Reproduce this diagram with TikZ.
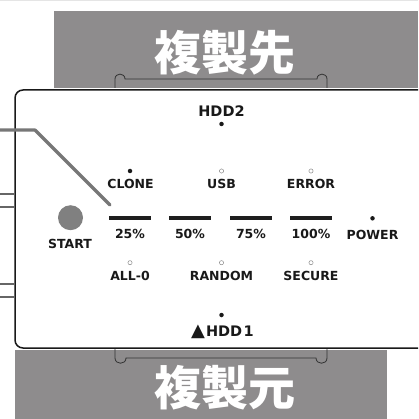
\documentclass[tikz,border=0pt]{standalone}
\usepackage{fontspec}
\setmainfont{DejaVu Sans}
\newfontfamily\cjk{Noto Sans CJK JP}
\usetikzlibrary{positioning}
\definecolor{bandgray}{HTML}{8E8C8D}
\definecolor{leadgray}{HTML}{777777}
\definecolor{btngray}{HTML}{808080}
\definecolor{bargray}{HTML}{1E1E1E}

\begin{document}
\begin{tikzpicture}[x=1pt, y=-1pt,
          lbl/.style={anchor=base, inner sep=0pt, font=\fontsize{12.5}{12.5}\selectfont\bfseries, text=black!90},
          hddlbl/.style={anchor=base, inner sep=0pt, font=\fontsize{14.5}{14.5}\selectfont\bfseries, text=black!90},
          led/.style={circle, fill=black!90, inner sep=0pt, minimum size=4.5pt},
          ledoff/.style={circle, draw=black!45, line width=0.5pt, fill=white, inner sep=0pt, minimum size=4.2pt},
          bar/.style={rectangle, fill=bargray, inner sep=0pt, minimum width=42pt, minimum height=4.5pt},
          band/.style={fill=bandgray},
          bandtext/.style={inner sep=0pt, text=white, font=\fontsize{47}{47}\selectfont\cjk\bfseries},
          slot/.style={draw=black!80, line width=0.8pt},
          lead/.style={draw=leadgray, line width=3.2pt, line cap=round, line join=round}
      ]
      \useasboundingbox (0,0) rectangle (418,419);
      \clip (0,0) rectangle (418,419);

      % Top rule and bands
      \fill[black!10] (0,0) rectangle (418,1.5);
      \fill[band] (54,11) rectangle (418,88);
      \fill[band] (15,350) rectangle (387,419);
      \node[bandtext] (dest) at (225,52.5) {複製先};
      \node[bandtext] (src) at (225,388) {複製元};

      % Drive slots
      \draw[slot] (115,88) -- (115,79) .. controls (115,72.5) and (125,72.5) .. (125,79)
            -- (317,79) .. controls (317,72.5) and (327,72.5) .. (327,79) -- (327,88);
      \draw[slot] (115,348) -- (115,358) .. controls (115,365) and (126,365) .. (126,358)
            -- (316,358) .. controls (316,365) and (327,365) .. (327,358) -- (327,348);

      % Side tabs
      \draw[black!60, line width=1.3pt] (0,194) -- (14,194) (0,207) -- (14,207);
      \draw[black!60, line width=1.3pt] (0,284) -- (14,284) (0,297) -- (14,297);

      % Panel
      \draw[black!90, line width=1.5pt, rounded corners=8pt] (15,90) rectangle (440,348);

      % Lead line
      \coordinate (lead start) at (0,130);
      \coordinate (lead bend) at (35,130);
      \coordinate (lead end) at (110,205);
      \draw[lead] (lead start) -- (lead bend) -- (lead end);

      % HDD2
      \node[hddlbl] (hdd2) at (221.5,117) {HDD2};
      \node[led] (hdd2 led) at (221.5,124) {};

      % Mode row
      \node[led] (clone led) at (130,171) {};
      \node[ledoff] (usb led) at (221.5,171) {};
      \node[ledoff] (error led) at (311,171) {};
      \node[lbl] (clone) at (130.5,188.5) {CLONE};
      \node[lbl] (usb) at (221.5,188.5) {USB};
      \node[lbl] (error) at (311,188.5) {ERROR};

      % Progress bars
      \node[bar] (bar25) at (130,218) {};
      \node[bar] (bar50) at (190,218) {};
      \node[bar] (bar75) at (251,218) {};
      \node[bar] (bar100) at (311,218) {};
      \node[lbl] (p25) at (130,238) {25\%};
      \node[lbl] (p50) at (190,238) {50\%};
      \node[lbl] (p75) at (251,238) {75\%};
      \node[lbl] (p100) at (311,238) {100\%};

      % Power
      \node[led] (power led) at (372.5,218.3) {};
      \node[lbl] (power) at (372.5,239) {POWER};

      % Start button
      \node[circle, fill=btngray, inner sep=0pt, minimum size=25pt] (start btn) at (70.5,217.7) {};
      \node[lbl] (start) at (70,248) {START};

      % Erase row
      \node[ledoff] (all0 led) at (130,262.7) {};
      \node[ledoff] (random led) at (221.5,262.7) {};
      \node[ledoff] (secure led) at (311,262.7) {};
      \node[lbl] (all0) at (130,280) {ALL-0};
      \node[lbl] (random) at (221.5,280) {RANDOM};
      \node[lbl] (secure) at (311,280) {SECURE};

      % HDD1
      \node[led] (hdd1 led) at (221.5,315) {};
      \node[hddlbl] (hdd1) at (222.5,336) {{\fontsize{18}{18}\selectfont ▲}\kern1pt HDD\kern1.5pt 1};

      \end{tikzpicture}
\end{document}
